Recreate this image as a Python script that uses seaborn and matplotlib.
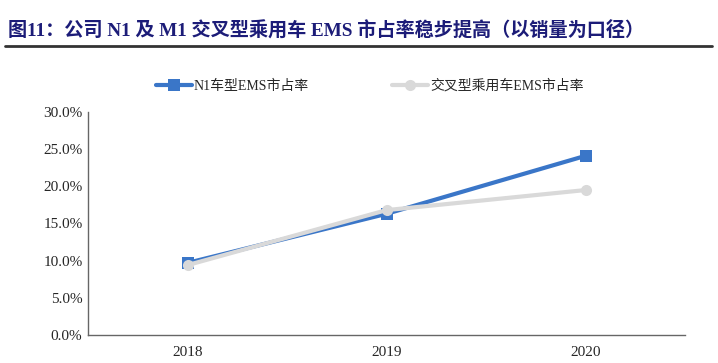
import pandas as pd
import seaborn as sns
import matplotlib as mpl
import matplotlib.pyplot as plt
from matplotlib.ticker import FixedLocator, PercentFormatter

mpl.use('Agg')

years = ['2018', '2019', '2020']
n1_share = [9.7, 16.3, 24.1]
cross_share = [9.4, 16.8, 19.5]
series_names = ['N1车型EMS市占率', '交叉型乘用车EMS市占率']
title = '图11：公司 N1 及 M1 交叉型乘用车 EMS 市占率稳步提高（以销量为口径）'

sns.set_style('white')
plt.rcParams['font.family'] = ['Liberation Serif', 'Noto Sans CJK SC']

df = pd.DataFrame({
    'year': years * 2,
    'share': n1_share + cross_share,
    'series': [series_names[0]] * 3 + [series_names[1]] * 3,
})

fig = plt.figure(figsize=(7.18, 3.63), dpi=100)
ax = fig.add_axes([88 / 718, 28 / 363, 597 / 718, 223 / 363])

colors = {series_names[0]: '#3A76C8', series_names[1]: '#D9D9D9'}
markers = {series_names[0]: 's', series_names[1]: 'o'}
for name in series_names:
    sub = df[df['series'] == name]
    sns.lineplot(data=sub, x='year', y='share', ax=ax, color=colors[name],
                 marker=markers[name], markersize=8, markeredgewidth=0,
                 linewidth=3, label=name, sort=False)

ax.set_xlim(-0.5, 2.5)
ax.set_ylim(0, 30)
ax.set_yticks([0, 5, 10, 15, 20, 25, 30])
ax.yaxis.set_major_formatter(PercentFormatter(decimals=1))
ax.xaxis.set_minor_locator(FixedLocator([-0.5, 0.5, 1.5, 2.5]))
ax.tick_params(axis='x', which='major', length=0, pad=8, labelsize=11)
ax.tick_params(axis='x', which='minor', direction='in', length=4, color='#666666')
ax.tick_params(axis='y', direction='in', length=4, color='#666666', labelsize=11, pad=4)
ax.set_xlabel('')
ax.set_ylabel('')
for s in ['top', 'right']:
    ax.spines[s].set_visible(False)
for s in ['left', 'bottom']:
    ax.spines[s].set_color('#666666')
    ax.spines[s].set_linewidth(1)

ax.legend(loc='lower center', bbox_to_anchor=(0.472, 1.03), ncol=2, frameon=False,
          fontsize=10, handlelength=2.6, columnspacing=6, handletextpad=0.15)

fig.text(8 / 718, 1 - 31 / 363, title, fontsize=13.8, fontweight='bold',
         color='#1C1C78', va='center', ha='left')
fig.add_artist(plt.Line2D([5 / 718, 712 / 718], [1 - 46 / 363] * 2,
                          color='#333333', linewidth=2))

fig.savefig('out.png', dpi=100)
